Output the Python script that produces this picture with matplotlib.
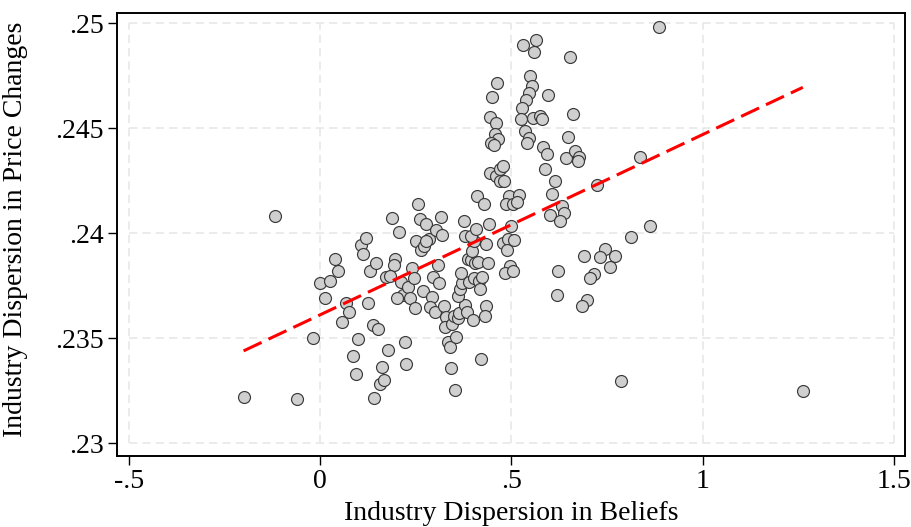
import numpy as np
import matplotlib
matplotlib.use("Agg")
import matplotlib.pyplot as plt

plt.rcParams['font.family'] = ['Liberation Serif', 'DejaVu Serif']

# dispersion in beliefs (x) vs dispersion in price changes (y)
belief_disp = [
    -0.200, -0.060, -0.117, -0.018, 0.000, 0.026, 0.014, 0.039, 0.048, 0.068,
    0.076, 0.058, 0.099, 0.085, 0.093, 0.107, 0.120, 0.113, 0.131, 0.147,
    0.125, 0.137, 0.152, 0.142, 0.157, 0.167, 0.163, 0.177, 0.188, 0.207,
    0.197, 0.192, 0.171, 0.182, 0.211, 0.217, 0.202, 0.231, 0.236, 0.241,
    0.245, 0.221, 0.225, 0.249, 0.257, 0.252, 0.260, 0.276, 0.265, 0.272,
    0.284, 0.277, 0.316, 0.304, 0.319, 0.308, 0.296, 0.312, 0.269, 0.292,
    0.288, 0.300, 0.323, 0.330, 0.327, 0.346, 0.351, 0.360, 0.364, 0.379,
    0.385, 0.401, 0.334, 0.340, 0.356, 0.343, 0.352, 0.420, 0.361, 0.367,
    0.372, 0.369, 0.390, 0.403, 0.415, 0.424, 0.417, 0.434, 0.431, 0.386,
    0.395, 0.404, 0.413, 0.438, 0.398, 0.403, 0.380, 0.394, 0.408, 0.375,
    0.441, 0.435, 0.411, 0.428, 0.478, 0.491, 0.488, 0.508, 0.500, 0.497,
    0.484, 0.505, 0.495, 0.487, 0.503, 0.521, 0.516, 0.463, 0.450, 0.445,
    0.461, 0.456, 0.466, 0.448, 0.454, 0.443, 0.459, 0.470, 0.477, 0.471,
    0.481, 0.531, 0.564, 0.560, 0.654, 0.550, 0.554, 0.547, 0.538, 0.528,
    0.525, 0.557, 0.576, 0.580, 0.597, 0.661, 0.535, 0.545, 0.541, 0.649,
    0.584, 0.593, 0.643, 0.667, 0.678, 0.673, 0.588, 0.613, 0.723, 0.837,
    0.607, 0.633, 0.638, 0.602, 0.628, 0.862, 0.813, 0.744, 0.691, 0.733,
    0.772, 0.757, 0.715, 0.705, 0.623, 0.618, 0.698, 0.684, 0.787, 1.262,
    0.886,
]
price_disp = [
    0.23221, 0.23213, 0.24083, 0.23504, 0.23766, 0.23772, 0.23693, 0.23876, 0.23820, 0.23668,
    0.23625, 0.23580, 0.23497, 0.23415, 0.23329, 0.23944, 0.23980, 0.23901, 0.23821, 0.23860,
    0.23669, 0.23562, 0.23544, 0.23218, 0.23281, 0.23301, 0.23366, 0.23444, 0.24074, 0.24006,
    0.23878, 0.23851, 0.23791, 0.23799, 0.23767, 0.23708, 0.23694, 0.23744, 0.23691, 0.23834,
    0.23786, 0.23485, 0.23377, 0.23643, 0.24138, 0.23966, 0.24067, 0.24046, 0.23921, 0.23938,
    0.23974, 0.23966, 0.24076, 0.24015, 0.23992, 0.23849, 0.23792, 0.23762, 0.23727, 0.23695,
    0.23651, 0.23626, 0.23654, 0.23601, 0.23555, 0.23569, 0.23608, 0.23595, 0.23619, 0.23660,
    0.23625, 0.23589, 0.23482, 0.23459, 0.23506, 0.23357, 0.23256, 0.23404, 0.23703, 0.23733,
    0.23763, 0.23810, 0.23770, 0.23790, 0.23774, 0.23793, 0.23733, 0.23655, 0.23609, 0.23878,
    0.23875, 0.23858, 0.23863, 0.23860, 0.23917, 0.23963, 0.23988, 0.23990, 0.24020, 0.24060,
    0.24045, 0.23950, 0.24178, 0.24140, 0.23955, 0.23973, 0.23923, 0.23967, 0.24033, 0.23847,
    0.23813, 0.23820, 0.24178, 0.24139, 0.24138, 0.24183, 0.24151, 0.24714, 0.24650, 0.24553,
    0.24524, 0.24472, 0.24451, 0.24432, 0.24423, 0.24288, 0.24275, 0.24305, 0.24322, 0.24251,
    0.24249, 0.24899, 0.24923, 0.24864, 0.24839, 0.24748, 0.24702, 0.24669, 0.24636, 0.24598,
    0.24547, 0.24549, 0.24558, 0.24545, 0.24661, 0.24569, 0.24490, 0.24454, 0.24432, 0.24457,
    0.24410, 0.24377, 0.24361, 0.24394, 0.24365, 0.24345, 0.24309, 0.24250, 0.24232, 0.24363,
    0.24186, 0.24132, 0.24099, 0.24090, 0.24060, 0.24036, 0.23982, 0.23926, 0.23892, 0.23886,
    0.23891, 0.23840, 0.23808, 0.23786, 0.23821, 0.23705, 0.23682, 0.23656, 0.23299, 0.23250,
    0.24982,
]

xticks = [-0.5, 0, 0.5, 1, 1.5]
xtick_labels = ['-.5', '0', '.5', '1', '1.5']
yticks = [0.23, 0.235, 0.24, 0.245, 0.25]
ytick_labels = ['.23', '.235', '.24', '.245', '.25']

x = np.array(belief_disp)
y = np.array(price_disp)

fig = plt.figure(figsize=(9.11, 5.27), dpi=100)
ax = fig.add_axes([0.1284, 0.1347, 0.865, 0.8412])

# grid only over the tick range, like stata
ax.hlines(yticks, xticks[0], xticks[-1], colors='#e8e8e8', linestyles=(0, (5, 3)), lw=1.2, zorder=0)
ax.vlines(xticks, yticks[0], yticks[-1], colors='#e8e8e8', linestyles=(0, (5, 3)), lw=1.2, zorder=0)

ax.scatter(x, y, s=74, facecolor='#cfcfcf', edgecolor='#3a3a3a', linewidth=0.85, zorder=3)

# linear fit
b, a = np.polyfit(x, y, 1)
xf = np.array([x.min(), x.max()])
ax.plot(xf, a + b * xf, color='red', lw=2.2, dashes=(6.5, 2.5), zorder=4)

ax.set_xlim(-0.531, 1.529)
ax.set_ylim(0.22940, 0.25051)
ax.set_xticks(xticks)
ax.set_xticklabels(xtick_labels)
ax.set_yticks(yticks)
ax.set_yticklabels(ytick_labels)
ax.tick_params(direction='out', length=6.5, width=1.0, labelsize=20, pad=3, colors='black')
for s in ax.spines.values():
    s.set_linewidth(1.4)

ax.set_xlabel('Industry Dispersion in Beliefs', fontsize=20, labelpad=5)
ax.set_ylabel('Industry Dispersion in Price Changes', fontsize=20)
ax.yaxis.set_label_coords(-0.113, 0.512)

fig.savefig('out.png', dpi=100)
